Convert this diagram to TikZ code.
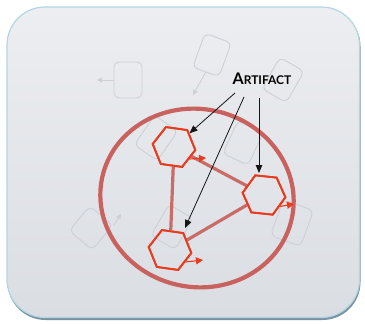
\documentclass[tikz,border=0pt]{standalone}
\usepackage{fontspec}
\usetikzlibrary{shapes.geometric,arrows.meta}
\newfontfamily\labelfont{Lato}
\definecolor{panelTop}{HTML}{ECEEF1}
\definecolor{panelBot}{HTML}{DADDE2}
\definecolor{panelEdge}{HTML}{B2D6E2}
\definecolor{panelShade}{HTML}{7893A3}
\definecolor{ghost}{HTML}{CDD0D5}
\definecolor{ringRed}{HTML}{C9625E}
\definecolor{linkRed}{HTML}{C96C68}
\definecolor{hexRed}{HTML}{EA3A1E}
\definecolor{ink}{HTML}{151515}
\tikzset{
  ghostbox/.style={draw=ghost, line width=0.9pt, rounded corners=5pt, minimum width=28pt, minimum height=36pt, inner sep=0pt},
  ghostarrow/.style={draw=ghost, line width=0.9pt, -{Triangle[length=5pt,width=5pt]}},
  hexa/.style={regular polygon, regular polygon sides=6, draw=hexRed, line width=1.8pt, minimum size=43pt, inner sep=0pt},
  link/.style={draw=linkRed, line width=3.2pt},
  outarrow/.style={draw=hexRed, line width=1.1pt, -{Triangle[length=7pt,width=7pt]}},
  pointer/.style={draw=ink, line width=0.8pt, -{Triangle[length=8pt,width=6.5pt]}},
}
\begin{document}
\begin{tikzpicture}[x=1pt,y=-1pt]
\useasboundingbox (0,0) rectangle (365,324);
\fill[white] (0,0) rectangle (365,324);
% panel with its shadow
\fill[panelShade, rounded corners=38pt] (7.5,8.5) rectangle (360.5,320);
\shade[top color=panelTop, bottom color=panelBot, rounded corners=38pt, draw=panelEdge, line width=1.2pt] (7,7) rectangle (359.5,317.5);

% faint background boxes
\node[ghostbox] (g1) at (128,80) {};
\node[ghostbox, rotate=-20] (g2) at (212,55) {};
\node[ghostbox, rotate=-30] (g3) at (283,80) {};
\node[ghostbox, rotate=-40, minimum width=30pt, minimum height=32pt] (g4) at (91,228) {};
\node[ghostbox, rotate=-30] (g5) at (172,227) {};
\node[ghostbox, rotate=-20, minimum width=32pt, minimum height=38pt] (g6) at (292,223) {};
\node[ghostbox, rotate=-35] (g7) at (156,138) {};
\node[ghostbox, rotate=-25] (g8) at (243,143) {};
\coordinate (g1t) at (97,80);
\coordinate (g2t) at (193,95);
\coordinate (g4t) at (121,214);
\draw[ghostarrow] (g1.west) -- (g1t);
\draw[ghostarrow] (g2.south) -- (g2t);
\draw[ghostarrow] (g4.north east) -- (g4t);

% enclosing ring
\draw[ringRed, line width=4.2pt, rotate around={-12:(197,198)}] (197,198) ellipse [x radius=97, y radius=89];

% artifacts
\node[hexa, rotate=-8] (h1) at (174,147) {};
\node[hexa, rotate=-6] (h2) at (264,195) {};
\node[hexa, rotate=-8] (h3) at (170,250) {};
\draw[link] (h1) -- (h2);
\draw[link] (h1) -- (h3);
\draw[link] (h3) -- (h2);
\node[hexa, rotate=-8] at (h1) {};
\node[hexa, rotate=-6] at (h2) {};
\node[hexa, rotate=-8] at (h3) {};

% outputs of each artifact
\coordinate (o1) at (206,158);
\coordinate (o2) at (294,204);
\coordinate (o3) at (203,260);
\draw[outarrow] (h1.-30) -- (o1);
\draw[outarrow] (h2.-30) -- (o2);
\draw[outarrow] (h3.-30) -- (o3);

% label and pointers
\node[inner sep=0pt] (art) at (262,79) {\labelfont\bfseries{\fontsize{16}{16}\selectfont A}{\fontsize{12}{12}\selectfont RTIFACT}};
\coordinate (a1) at (235,93);
\coordinate (a2) at (244,97);
\coordinate (a3) at (259,98);
\coordinate (t2) at (185,228);
\coordinate (t3) at (259,173);
\draw[pointer] (a1) -- (h1);
\draw[pointer] (a2) -- (t2);
\draw[pointer] (a3) -- (t3);
\end{tikzpicture}
\end{document}
